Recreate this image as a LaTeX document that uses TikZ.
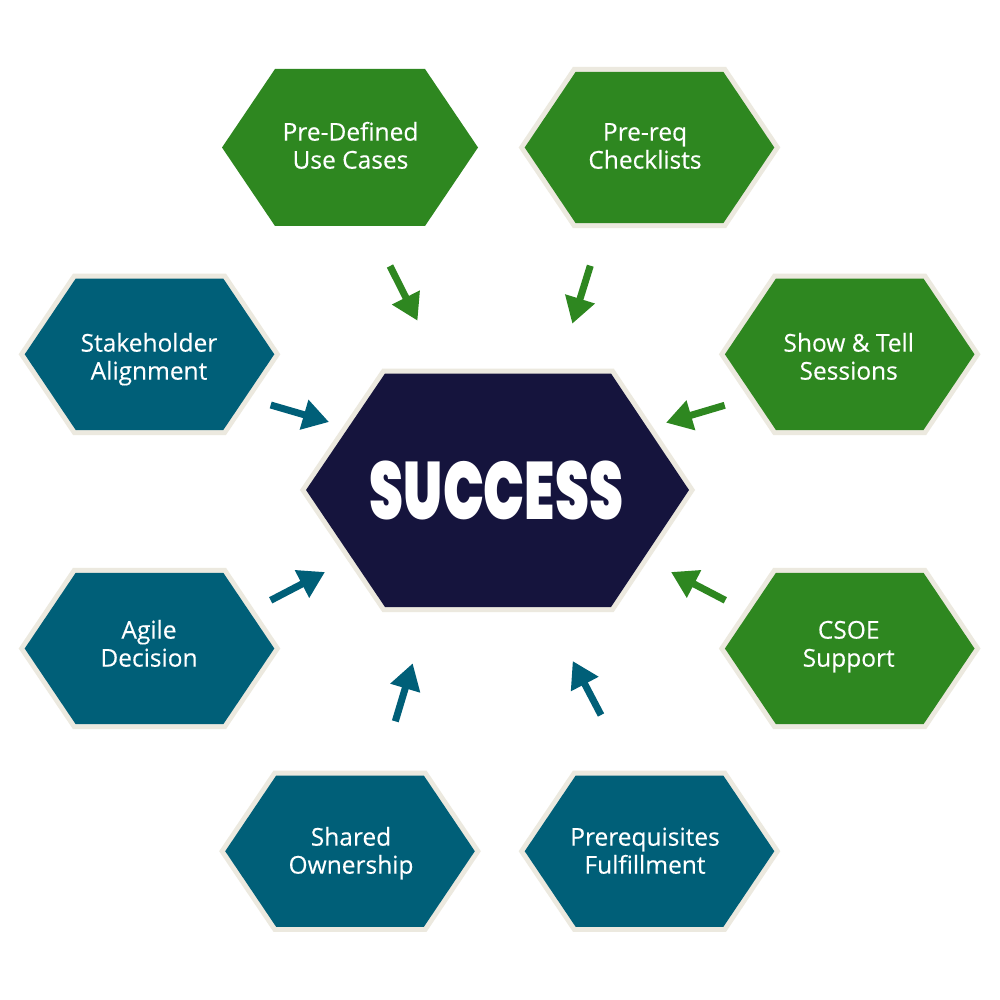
\documentclass[tikz,border=0pt]{standalone}
\usepackage{fontspec}
\setmainfont[FakeBold=0.25,AutoFakeBold=false]{Open Sans}
\newfontfamily\bigfont{Poppins Black}
\usetikzlibrary{arrows.meta}
\definecolor{hgreen}{HTML}{2E8720}
\definecolor{hteal}{HTML}{005F78}
\definecolor{hnavy}{HTML}{15143D}
\definecolor{hcream}{HTML}{ECE9DF}
\tikzset{
  hexlabel/.style={text=white,align=center,font=\fontsize{24.5}{28}\selectfont,inner sep=0pt},
  hexedge/.style={draw=hcream,line width=10pt,line join=miter,miter limit=10},
  flow/.style={line width=7pt,-{Triangle[length=26pt,width=29.5pt]}},
}
% name, hex centre x, y, colour, label x, label y, text
\newcommand{\hexnode}[7]{%
  \pgfmathsetmacro{\hx}{#2}\pgfmathsetmacro{\hy}{#3}%
  \path[hexedge] (\hx-124.8,\hy) -- (\hx-73.8,\hy-75.7) -- (\hx+73.8,\hy-75.7) -- (\hx+124.8,\hy) -- (\hx+73.8,\hy+75.7) -- (\hx-73.8,\hy+75.7) -- cycle;
  \fill[#4] (\hx-124.8,\hy) -- (\hx-73.8,\hy-75.7) -- (\hx+73.8,\hy-75.7) -- (\hx+124.8,\hy) -- (\hx+73.8,\hy+75.7) -- (\hx-73.8,\hy+75.7) -- cycle;
  \node[hexlabel] (#1) at (#5,#6) {#7};}
\begin{document}
\begin{tikzpicture}[x=1pt,y=-1pt]
\useasboundingbox (0,0) rectangle (1000,1000);
\fill[white] (0,0) rectangle (1000,1000);
% centre
\path[hexedge] (306,490) -- (385,373.5) -- (611,373.5) -- (689,490) -- (611,607) -- (385,607) -- cycle;
\fill[hnavy] (306,490) -- (385,373.5) -- (611,373.5) -- (689,490) -- (611,607) -- (385,607) -- cycle;
\node[text=white,inner sep=0pt] (success) at (496.5,490.5) {\scalebox{0.755}[1.13]{\bigfont\fontsize{72}{72}\selectfont SUCCESS}};
% top-left hexagon has no edge
\fill[hgreen] (222,147.5) -- (275,69) -- (425,69) -- (478,147.5) -- (425,226) -- (275,226) -- cycle;
\node[hexlabel] (usecases) at (350.5,149) {\strut Pre-Defined\\\strut Use Cases};
% outer hexagons
\hexnode{checklists}{649.5}{147.5}{hgreen}{645}{149}{\strut Pre-req\\\strut Checklists}
\hexnode{showtell}{849.7}{354.3}{hgreen}{848.7}{360}{\strut Show \& Tell\\\strut Sessions}
\hexnode{csoe}{849.7}{648.5}{hgreen}{848.7}{647}{\strut CSOE\\\strut Support}
\hexnode{stake}{149.5}{354.3}{hteal}{149}{360}{\strut Stakeholder\\\strut Alignment}
\hexnode{agile}{149.5}{648.5}{hteal}{149}{647}{\strut Agile\\\strut Decision}
\hexnode{shared}{350}{851.2}{hteal}{351}{854}{\strut Shared\\\strut Ownership}
\hexnode{prereq}{649.5}{851.2}{hteal}{645}{854}{\strut Prerequisites\\\strut Fulfillment}
% arrows
\coordinate (a1s) at (390,266); \coordinate (a1e) at (417.5,320.7);
\coordinate (a2s) at (590.3,265.7); \coordinate (a2e) at (572.3,323.7);
\coordinate (a3s) at (724.7,405.3); \coordinate (a3e) at (666,422.7);
\coordinate (a4s) at (725.3,600.3); \coordinate (a4e) at (671,572);
\coordinate (a5s) at (601,715); \coordinate (a5e) at (572.7,661);
\coordinate (a6s) at (395.3,721.3); \coordinate (a6e) at (412.7,663.3);
\coordinate (a7s) at (270.7,600.3); \coordinate (a7e) at (325,572);
\coordinate (a8s) at (270.7,405); \coordinate (a8e) at (329,422);
\draw[flow,hgreen] (a1s) -- (a1e);
\draw[flow,hgreen] (a2s) -- (a2e);
\draw[flow,hgreen] (a3s) -- (a3e);
\draw[flow,hgreen] (a4s) -- (a4e);
\draw[flow,hteal] (a5s) -- (a5e);
\draw[flow,hteal] (a6s) -- (a6e);
\draw[flow,hteal] (a7s) -- (a7e);
\draw[flow,hteal] (a8s) -- (a8e);
\end{tikzpicture}
\end{document}
